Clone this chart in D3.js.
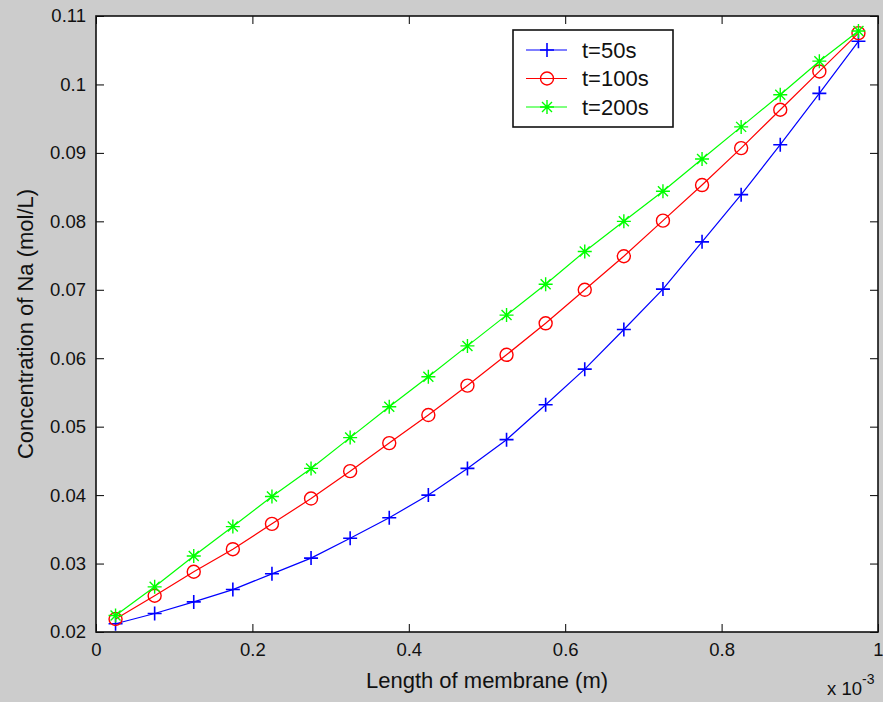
<!DOCTYPE html>
<html>
<head>
<meta charset="utf-8">
<script src="https://cdn.jsdelivr.net/npm/d3@7"></script>
<style>
  body { margin: 0; background: #cccccc; }
  svg { display: block; font-family: "Liberation Sans", Arial, sans-serif; }
</style>
</head>
<body>
<svg id="chart" width="883" height="702"></svg>
<script>
// membrane position (x 10^-3 m)
const lengthPos = [0.025, 0.075, 0.125, 0.175, 0.225, 0.275, 0.325, 0.375, 0.425, 0.475,
                   0.525, 0.575, 0.625, 0.675, 0.725, 0.775, 0.825, 0.875, 0.925, 0.975];

// concentration of Na (mol/L) for each time
const conc50 = [0.0212, 0.0227, 0.0244, 0.0262, 0.0285, 0.0308, 0.0337, 0.0367, 0.0400, 0.0439,
                0.0481, 0.0532, 0.0584, 0.0642, 0.0701, 0.0770, 0.0839, 0.0912, 0.0987, 0.1063];
const conc100 = [0.0219, 0.0253, 0.0288, 0.0321, 0.0358, 0.0395, 0.0435, 0.0476, 0.0517, 0.0560,
                 0.0605, 0.0651, 0.0700, 0.0749, 0.0801, 0.0853, 0.0907, 0.0963, 0.1019, 0.1075];
const conc200 = [0.0224, 0.0266, 0.0311, 0.0354, 0.0398, 0.0439, 0.0484, 0.0529, 0.0573, 0.0618,
                 0.0663, 0.0708, 0.0756, 0.0800, 0.0844, 0.0891, 0.0938, 0.0985, 0.1034, 0.1078];

const seriesNames = ["t=50s", "t=100s", "t=200s"];
const seriesColors = ["#0000ff", "#ff0000", "#00ff00"];
const seriesMarkers = ["plus", "circle", "star"];

const xTicks = [0, 0.2, 0.4, 0.6, 0.8, 1];
const yTicks = [0.02, 0.03, 0.04, 0.05, 0.06, 0.07, 0.08, 0.09, 0.1, 0.11];

const margin = {left: 96, top: 16, right: 5, bottom: 70};
const width = 883 - margin.left - margin.right;
const height = 702 - margin.top - margin.bottom;

const svg = d3.select("#chart");
const g = svg.append("g").attr("transform", `translate(${margin.left},${margin.top})`);

const x = d3.scaleLinear().domain([0, 1]).range([0, width]);
const y = d3.scaleLinear().domain([0.02, 0.11]).range([height, 0]);

// white plot area
g.append("rect").attr("width", width).attr("height", height).attr("fill", "#fff");

// function used for drawing one axis with ticks pointing inward
function drawAxis(axis, transform, labels) {
  const a = g.append("g").attr("transform", transform).call(axis);
  a.select(".domain").remove();
  a.selectAll(".tick line").attr("stroke", "#000").attr("stroke-width", 1);
  if (!labels) a.selectAll(".tick text").remove();
  else a.selectAll(".tick text").attr("fill", "#111").attr("font-size", 18.5)
        .attr("font-family", "\"Liberation Sans\", Arial, sans-serif");
  return a;
}

const fmt = d => String(+d.toFixed(2));

drawAxis(d3.axisBottom(x).tickValues(xTicks).tickFormat(fmt).tickSizeInner(-8).tickPadding(11),
  `translate(0,${height})`, true);
drawAxis(d3.axisTop(x).tickValues(xTicks).tickSizeInner(-8), "translate(0,0)", false);
drawAxis(d3.axisLeft(y).tickValues(yTicks).tickFormat(fmt).tickSizeInner(-8).tickPadding(10),
  "translate(0,0)", true);
drawAxis(d3.axisRight(y).tickValues(yTicks).tickSizeInner(-8), `translate(${width},0)`, false);

// frame
g.append("rect").attr("width", width).attr("height", height)
  .attr("fill", "none").attr("stroke", "#111").attr("stroke-width", 1.6);

// marker shapes
function marker(sel, type, color) {
  if (type === "plus") {
    sel.append("path").attr("d", "M-7,0H7M0,-7V7")
      .attr("stroke", color).attr("stroke-width", 1.6).attr("fill", "none");
  } else if (type === "circle") {
    sel.append("circle").attr("r", 6.5)
      .attr("stroke", color).attr("stroke-width", 1.4).attr("fill", "none");
  } else {
    sel.append("path").attr("d", "M-7,0H7M0,-7V7M-5,-5L5,5M-5,5L5,-5")
      .attr("stroke", color).attr("stroke-width", 1.4).attr("fill", "none");
  }
}

const allSeries = [conc50, conc100, conc200];
const line = d3.line().x(d => x(d[0])).y(d => y(d[1]));

allSeries.forEach((vals, i) => {
  const pts = lengthPos.map((p, j) => [p, vals[j]]);
  g.append("path").datum(pts).attr("d", line)
    .attr("fill", "none").attr("stroke", seriesColors[i]).attr("stroke-width", 1.2);
  g.selectAll(null).data(pts).enter().append("g")
    .attr("transform", d => `translate(${x(d[0])},${y(d[1])})`)
    .each(function() { marker(d3.select(this), seriesMarkers[i], seriesColors[i]); });
});

// legend
const legend = svg.append("g").attr("transform", "translate(513,30)");
legend.append("rect").attr("width", 160).attr("height", 97)
  .attr("fill", "#fff").attr("stroke", "#111").attr("stroke-width", 1.6);
seriesNames.forEach((name, i) => {
  const row = legend.append("g").attr("transform", `translate(0,${20 + i * 28.5})`);
  row.append("line").attr("x1", 13).attr("x2", 54).attr("y1", 0).attr("y2", 0)
    .attr("stroke", seriesColors[i]).attr("stroke-width", 1.2);
  const m = row.append("g").attr("transform", "translate(34,0)");
  marker(m, seriesMarkers[i], seriesColors[i]);
  row.append("text").attr("x", 69).attr("y", 7.5).attr("font-size", 22)
    .attr("fill", "#111").text(name);
});

// axis labels
svg.append("text").attr("x", margin.left + width / 2).attr("y", 688)
  .attr("text-anchor", "middle").attr("font-size", 22).attr("fill", "#111")
  .text("Length of membrane (m)");
svg.append("text").attr("transform", `translate(33,${margin.top + height / 2}) rotate(-90)`)
  .attr("text-anchor", "middle").attr("font-size", 22).attr("fill", "#111")
  .text("Concentration of Na (mol/L)");

// x 10^-3 multiplier
const mult = svg.append("text").attr("x", 827).attr("y", 695).attr("font-size", 18.5).attr("fill", "#111");
mult.append("tspan").text("x 10");
mult.append("tspan").attr("dy", -11).attr("font-size", 14).text("-3");
</script>
</body>
</html>
